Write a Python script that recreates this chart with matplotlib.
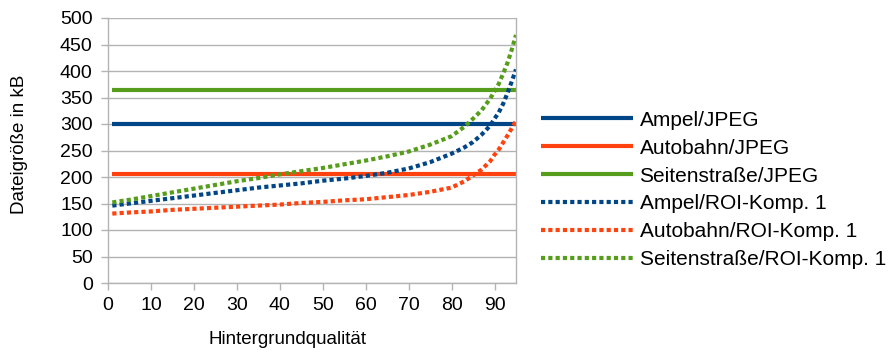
"""Dateigröße über Hintergrundqualität: JPEG vs. ROI-Kompression."""

import matplotlib

matplotlib.use("Agg")
import matplotlib.pyplot as plt

plt.rcParams["font.family"] = ["Liberation Sans", "DejaVu Sans"]

# Hintergrundqualität (x) and file sizes in kB
QUALITY = [1, 5, 10, 15, 20, 25, 30, 35, 40, 45, 50, 55, 60, 65, 70, 75, 80,
           83, 85, 87, 89, 90, 91, 92, 93, 94, 95]

AMPEL_JPEG = 300
AUTOBAHN_JPEG = 205
SEITEN_JPEG = 365

AMPEL_ROI = [146, 150, 155, 160, 165, 170, 175, 180, 184, 188, 193, 197, 202,
             208, 216, 228, 244, 256, 266, 280, 297, 310, 322, 338, 358, 380, 403]
AUTOBAHN_ROI = [131, 133, 135, 138, 140, 142, 144, 146, 148, 151, 153, 156, 158,
                162, 166, 172, 180, 192, 203, 214, 230, 242, 252, 265, 278, 292, 306]
SEITEN_ROI = [152, 157, 164, 171, 178, 185, 192, 198, 205, 211, 217, 224, 231,
              239, 248, 261, 277, 295, 310, 326, 348, 362, 376, 395, 415, 440, 468]

BLUE = "#004586"
RED = "#ff420e"
GREEN = "#579d1c"
GRID = "#b3b3b3"

fig = plt.figure(figsize=(8.9, 3.52), dpi=100)
ax = fig.add_axes([108 / 890, 1 - 283 / 352, (516 - 108) / 890, (283 - 18) / 352])

solid = dict(linewidth=3.0, solid_capstyle="butt")
dotted = dict(linewidth=3.0, linestyle=(0, (1, 0.75)), dash_capstyle="butt")

ax.plot(QUALITY, [AMPEL_JPEG] * len(QUALITY), color=BLUE, label="Ampel/JPEG", **solid)
ax.plot(QUALITY, [AUTOBAHN_JPEG] * len(QUALITY), color=RED, label="Autobahn/JPEG", **solid)
ax.plot(QUALITY, [SEITEN_JPEG] * len(QUALITY), color=GREEN, label="Seitenstraße/JPEG", **solid)
ax.plot(QUALITY, AMPEL_ROI, color=BLUE, label="Ampel/ROI-Komp. 1", **dotted)
ax.plot(QUALITY, AUTOBAHN_ROI, color=RED, label="Autobahn/ROI-Komp. 1", **dotted)
ax.plot(QUALITY, SEITEN_ROI, color=GREEN, label="Seitenstraße/ROI-Komp. 1", **dotted)

ax.set_xlim(0, 95)
ax.set_ylim(0, 500)
ax.set_xticks(range(0, 91, 10))
ax.set_yticks(range(0, 501, 50))
ax.grid(axis="y", color=GRID, linewidth=1.0)
ax.set_axisbelow(True)

for side in ("left", "bottom", "right"):
    ax.spines[side].set_color(GRID)
    ax.spines[side].set_linewidth(1.0)
ax.spines["top"].set_visible(False)

ax.tick_params(axis="both", colors=GRID, labelcolor="black", labelsize=14,
               length=5, width=1, direction="out")
ax.tick_params(axis="x", pad=5)
ax.tick_params(axis="y", pad=6)

ax.set_xlabel("Hintergrundqualität", fontsize=13.5)
ax.set_ylabel("Dateigröße in kB", fontsize=13.5)
# the labels sit slightly off-centre in the original
ax.xaxis.set_label_coords((287 - 108) / 408, -(340 - 283) / 265, transform=ax.transAxes)
ax.xaxis.label.set_va("center")
ax.yaxis.set_label_coords(-(108 - 20) / 408, (283 - 144) / 265, transform=ax.transAxes)
ax.yaxis.label.set_va("center")

fig.legend(
    loc="center left",
    bbox_to_anchor=(522 / 890, 1 - 190 / 352),
    frameon=False,
    fontsize=15,
    handlelength=4.41,
    handletextpad=0.33,
    labelspacing=0.43,
)

fig.savefig("out.png", dpi=100)
